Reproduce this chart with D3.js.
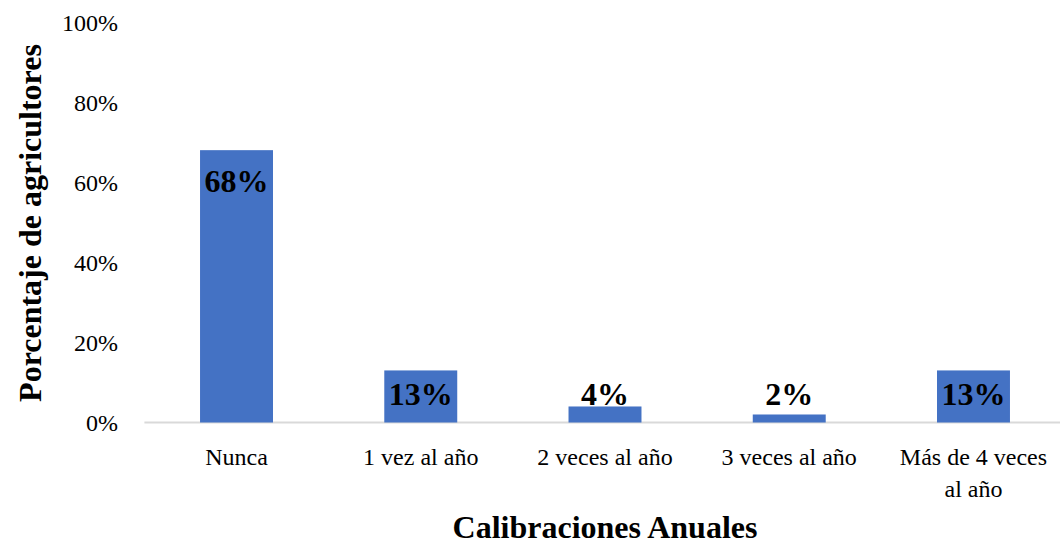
<!DOCTYPE html>
<html><head><meta charset="utf-8">
<script src="https://cdn.jsdelivr.net/npm/d3@7"></script>
<style>
html,body{margin:0;padding:0;background:#fff;}
svg{display:block;font-family:"Liberation Serif","Times New Roman",serif;}
</style></head>
<body>
<svg id="chart" width="1060" height="545"></svg>
<script>
const categories = ["Nunca", "1 vez al año", "2 veces al año", "3 veces al año", "Más de 4 veces|al año"];
const values = [0.68, 0.13, 0.04, 0.02, 0.13];
const yTicks = [0, 0.2, 0.4, 0.6, 0.8, 1.0];
const yTitle = "Porcentaje de agricultores";
const xTitle = "Calibraciones Anuales";

const svg = d3.select("#chart");
const x = d3.scaleBand().domain(categories).range([144.4, 1065.6]).padding(0);
const y = d3.scaleLinear().domain([0, 1]).range([422.5, 22]);
const barW = x.bandwidth() * 0.396;

// axis baseline
svg.append("line")
  .attr("x1", x.range()[0]).attr("x2", 1060)
  .attr("y1", y(0)).attr("y2", y(0))
  .attr("stroke", "#d9d9d9").attr("stroke-width", 2);

// y tick labels
svg.append("g").selectAll("text").data(yTicks).join("text")
  .attr("x", 118).attr("y", d => y(d) + 8.5)
  .attr("text-anchor", "end")
  .attr("font-size", 24).attr("fill", "#000")
  .text(d => d3.format(".0%")(d));

// bars
svg.append("g").selectAll("rect").data(values).join("rect")
  .attr("x", (d, i) => x(categories[i]) + x.bandwidth() / 2 - barW / 2)
  .attr("width", barW)
  .attr("y", d => y(d))
  .attr("height", d => y(0) - y(d))
  .attr("fill", "#4472C4");

// data labels
svg.append("g").selectAll("text").data(values).join("text")
  .attr("x", (d, i) => x(categories[i]) + x.bandwidth() / 2)
  .attr("y", d => Math.min(y(d) + 42, y(0) - 17.5))
  .attr("text-anchor", "middle")
  .attr("font-size", 32).attr("font-weight", "bold").attr("fill", "#000")
  .text(d => d3.format(".0%")(d));

// x category labels
const xl = svg.append("g").selectAll("text").data(categories).join("text")
  .attr("x", d => x(d) + x.bandwidth() / 2)
  .attr("y", 465)
  .attr("text-anchor", "middle")
  .attr("font-size", 24).attr("fill", "#000");
xl.each(function(d) {
  const parts = d.split("|");
  const t = d3.select(this);
  parts.forEach((p, j) => {
    t.append("tspan").attr("x", x(d) + x.bandwidth() / 2).attr("dy", j === 0 ? 0 : 32).text(p);
  });
});

// axis titles
svg.append("text")
  .attr("transform", "translate(41,223) rotate(-90)")
  .attr("text-anchor", "middle")
  .attr("font-size", 32).attr("font-weight", "bold").attr("fill", "#000")
  .text(yTitle);

svg.append("text")
  .attr("x", 605).attr("y", 538)
  .attr("text-anchor", "middle")
  .attr("font-size", 32).attr("font-weight", "bold").attr("fill", "#000")
  .text(xTitle);
</script>
</body></html>
